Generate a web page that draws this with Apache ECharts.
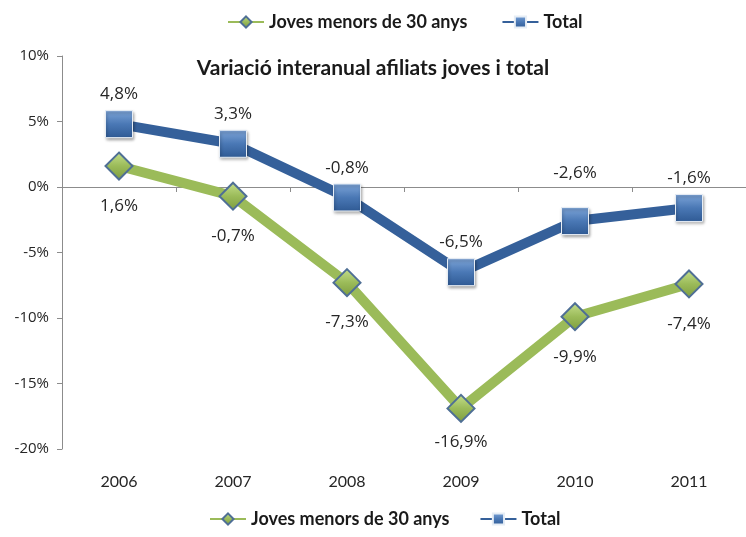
<!DOCTYPE html>
<html>
<head>
<meta charset="utf-8">
<script src="https://cdn.jsdelivr.net/npm/echarts@6/dist/echarts.min.js"></script>
<style>
  html, body { margin: 0; padding: 0; background: #fff; }
  #chart { width: 746px; height: 537px; }
</style>
</head>
<body>
<div id="chart"></div>
<script>
// dades
const years = ["2006", "2007", "2008", "2009", "2010", "2011"];
const joves = [1.6, -0.7, -7.3, -16.9, -9.9, -7.4];
const total = [4.8, 3.3, -0.8, -6.5, -2.6, -1.6];
const serieNames = ["Joves menors de 30 anys", "Total"];
const titleText = "Variació interanual afiliats joves i total";

// format amb coma decimal
function pct(v) {
  return v.toFixed(1).replace(".", ",") + "%";
}

const labelFont = {
  fontFamily: "Open Sans",
  fontSize: 15,
  color: "#262626",
};
const dataFont = Object.assign({}, labelFont, { fontSize: 17 });

// distancies d'etiqueta que no segueixen la regla general
const totalDist = { 4: 25 };
const jovesDist = { 3: 11 };

const chart = echarts.init(document.getElementById("chart"));

const legendText = {
  fontFamily: "Lato",
  fontWeight: "bold",
  fontSize: 18,
  color: "#1a1a1a",
};

const option = {
  animation: false,
  title: {
    text: titleText,
    left: "center",
    top: 53,
    textStyle: {
      fontFamily: "Lato",
      fontWeight: "bold",
      fontSize: 21,
      color: "#1a1a1a",
    },
  },
  legend: [
    {
      data: serieNames,
      top: 8,
      left: 222,
      itemWidth: 36,
      itemHeight: 14,
      itemGap: 34,
      textStyle: legendText,
    },
    {
      data: serieNames,
      bottom: 4,
      left: 204,
      itemWidth: 36,
      itemHeight: 14,
      itemGap: 30,
      textStyle: legendText,
    },
  ],
  grid: {
    left: 62,
    right: -6,
    top: 56,
    bottom: 88,
    containLabel: false,
  },
  xAxis: [
    {
      type: "category",
      data: years,
      position: "top",
      boundaryGap: true,
      axisLine: { onZero: true, lineStyle: { color: "#8c8c8c", width: 1 } },
      axisTick: { show: true, inside: true, length: 5, lineStyle: { color: "#8c8c8c" } },
      axisLabel: { show: false },
      splitLine: { show: false },
    },
    {
      type: "category",
      data: years,
      position: "bottom",
      boundaryGap: true,
      axisLine: { show: false, onZero: false },
      axisTick: { show: false },
      axisLabel: Object.assign({ margin: 25 }, labelFont, { fontSize: 16, fontFamily: "Lato" }),
      splitLine: { show: false },
    },
  ],
  yAxis: {
    type: "value",
    min: -20,
    max: 10,
    interval: 5,
    axisLine: { show: true, lineStyle: { color: "#8c8c8c", width: 1 } },
    axisTick: { show: true, length: 5, lineStyle: { color: "#8c8c8c" } },
    axisLabel: Object.assign(
      {
        margin: 13,
        formatter: (v) => v + "%",
      },
      labelFont
    ),
    splitLine: { show: false },
  },
  series: [
    {
      name: serieNames[0],
      type: "line",
      xAxisIndex: 0,
      data: joves.map((v, i) => ({
        value: v,
        label: { distance: jovesDist[i] || 17 },
      })),
      symbol: "diamond",
      symbolSize: 27,
      lineStyle: { color: "#9bbb59", width: 10 },
      itemStyle: {
        color: new echarts.graphic.LinearGradient(0, 0, 0, 1, [
          { offset: 0, color: "#c6e08e" },
          { offset: 0.5, color: "#9bbb59" },
          { offset: 1, color: "#7d9c3e" },
        ]),
        borderColor: "#4f6f95",
        borderWidth: 2,
      },
      label: {
        show: true,
        position: "bottom",
        formatter: (p) => pct(p.value),
        ...dataFont,
      },
      z: 2,
    },
    {
      name: serieNames[1],
      type: "line",
      xAxisIndex: 0,
      data: total.map((v, i) => ({
        value: v,
        label: { distance: totalDist[i] || 7 },
      })),
      symbol: "rect",
      symbolSize: 27,
      lineStyle: { color: "#35609a", width: 10 },
      itemStyle: {
        color: new echarts.graphic.LinearGradient(0, 0, 0, 1, [
          { offset: 0, color: "#7fa6d9" },
          { offset: 0.5, color: "#4a78b5" },
          { offset: 1, color: "#2f5a94" },
        ]),
        borderColor: "#e6edf5",
        borderWidth: 1,
        shadowColor: "rgba(0,0,0,0.35)",
        shadowBlur: 3,
        shadowOffsetX: 1,
        shadowOffsetY: 2,
      },
      label: {
        show: true,
        position: "top",
        formatter: (p) => pct(p.value),
        ...dataFont,
      },
      z: 3,
    },
  ],
};

chart.setOption(option);
</script>
</body>
</html>
